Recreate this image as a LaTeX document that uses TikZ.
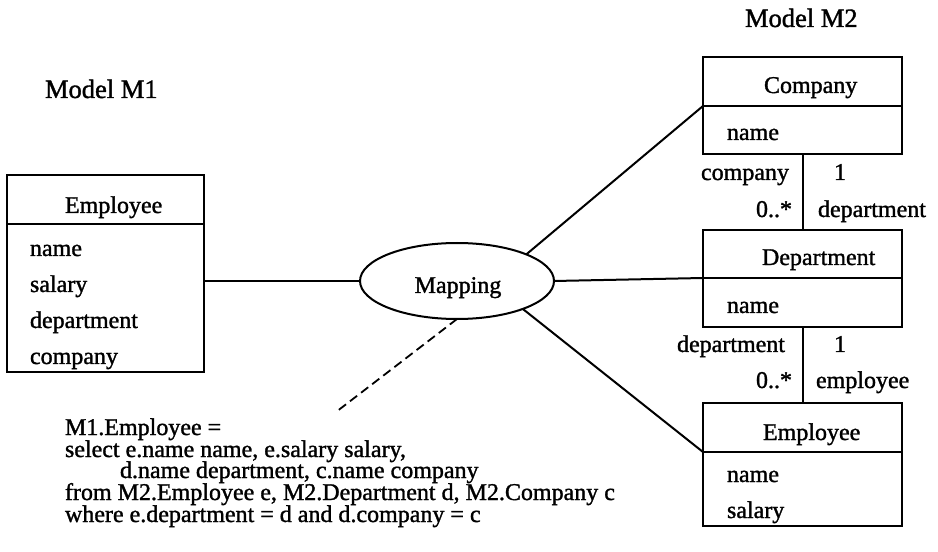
\documentclass[tikz,border=0pt]{standalone}
\usepackage{fontspec}
\setmainfont[FakeBold=1.3]{Liberation Serif}
\usetikzlibrary{shapes.geometric}
\begin{document}
\begin{tikzpicture}[x=1bp, y=1bp, line width=2bp,
  every node/.style={font=\fontsize{24bp}{28bp}\selectfont, inner sep=0pt, outer sep=0pt},
  classbox/.style={draw, rectangle, minimum width=199bp, anchor=north west},
  txt/.style={anchor=base west},
  txtr/.style={anchor=base east},
  modeltitle/.style={anchor=base west, font=\fontsize{26.5bp}{30bp}\selectfont},
  notedash/.style={line width=1.8bp, dash pattern=on 9bp off 5bp}]

\path[use as bounding box] (0,0) rectangle (938,-552);

% ---- Model M1 ----
\node[modeltitle] (m1title) at (45,-98) {Model M1};

\node[classbox, minimum width=197bp, minimum height=49bp] (e1h) at (7,-175) {};
\node[classbox, minimum width=197bp, minimum height=148bp] (e1b) at (e1h.south west) {};
\node[txt] (e1name) at (65,-213) {Employee};
\node[txt] (e1a1) at (30,-256) {name};
\node[txt] (e1a2) at (30,-292) {salary};
\node[txt] (e1a3) at (30,-328) {department};
\node[txt] (e1a4) at (30,-364) {company};

% ---- Mapping ----
\node[draw, ellipse, minimum width=194bp, minimum height=76bp] (map) at (457,-281) {};
\node[anchor=base] (maplbl) at (458,-293) {Mapping};

% ---- Model M2 ----
\node[modeltitle] (m2title) at (745,-27) {Model M2};

\node[classbox, minimum height=49bp] (comph) at (703,-57) {};
\node[classbox, minimum height=48bp] (compb) at (comph.south west) {};
\node[txt] (compname) at (764,-93) {Company};
\node[txt] (compa1) at (727,-140) {name};

\node[classbox, minimum height=48bp] (deph) at (703,-230) {};
\node[classbox, minimum height=49bp] (depb) at (deph.south west) {};
\node[txt] (depname) at (762,-265) {Department};
\node[txt] (depa1) at (727,-313) {name};

\node[classbox, minimum height=49bp] (emph) at (703,-403) {};
\node[classbox, minimum height=74bp] (empb) at (emph.south west) {};
\node[txt] (empname) at (763,-440) {Employee};
\node[txt] (empa1) at (727,-482) {name};
\node[txt] (empa2) at (727,-518) {salary};

% ---- associations ----
\draw (compb.south) -- (deph.north);
\node[txtr] (r1a) at (789,-180) {company};
\node[txt]  (r1b) at (834,-180) {1};
\node[txtr] (r1c) at (792,-217) {0..*};
\node[txt]  (r1d) at (818,-217) {department};

\draw (depb.south) -- (emph.north);
\node[txtr] (r2a) at (785,-352) {department};
\node[txt]  (r2b) at (834,-352) {1};
\node[txtr] (r2c) at (792,-388) {0..*};
\node[txt]  (r2d) at (816,-388) {employee};

% ---- mapping connectors ----
\draw (e1b.east |- map.west) -- (map.west);
\draw (map.21) -- (comph.south west);
\draw (map.east) -- (deph.south west);
\draw (map.-23) -- (emph.south west);
\coordinate (noteend) at (336,-412);
\draw[notedash] (map.south) -- (noteend);

% ---- mapping definition ----
\node[txt] (q1) at (65,-435) {M1.Employee =};
\node[txt] (q2) at (65,-457) {select e.name name, e.salary salary,};
\node[txt] (q3) at (120,-478) {d.name department, c.name company};
\node[txt] (q4) at (65,-500) {from M2.Employee e, M2.Department d, M2.Company c};
\node[txt] (q5) at (65,-522) {where e.department = d and d.company = c};
\end{tikzpicture}
\end{document}
